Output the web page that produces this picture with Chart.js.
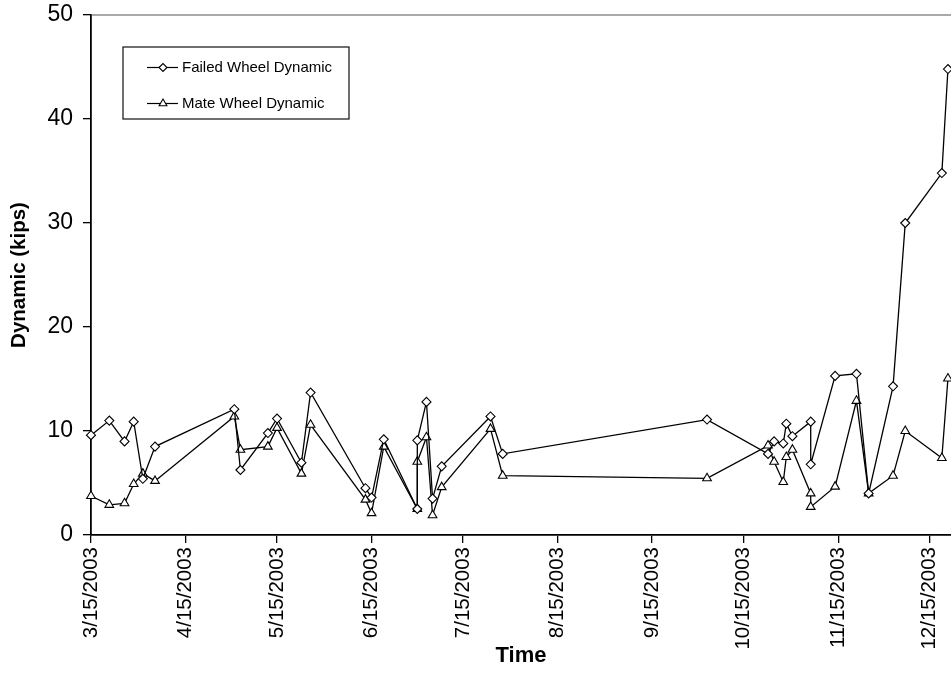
<!DOCTYPE html>
<html><head><meta charset="utf-8">
<script src="https://cdn.jsdelivr.net/npm/chart.js@4"></script>
<style>html,body{margin:0;padding:0;background:#fff}#wrap{width:951px;height:674px}</style>
</head><body><div id="wrap"><canvas id="c" width="951" height="674"></canvas></div>
<script>
const dates = ['2003-03-15','2003-03-21','2003-03-26','2003-03-29','2003-04-01','2003-04-05','2003-05-01','2003-05-03','2003-05-12','2003-05-15','2003-05-23','2003-05-26','2003-06-13','2003-06-15','2003-06-19','2003-06-30','2003-06-30','2003-07-03','2003-07-05','2003-07-08','2003-07-24','2003-07-28','2003-10-03','2003-10-23','2003-10-25','2003-10-28','2003-10-29','2003-10-31','2003-11-06','2003-11-06','2003-11-14','2003-11-21','2003-11-25','2003-12-03','2003-12-07','2003-12-19','2003-12-21'];
const failedWheel = [9.6,11.0,9.0,10.9,5.4,8.5,12.1,6.25,9.8,11.2,6.95,13.7,4.5,3.6,9.2,2.5,9.1,12.8,3.5,6.6,11.4,7.8,11.1,7.8,9.0,8.8,10.7,9.5,10.9,6.8,15.3,15.5,4.0,14.3,30.0,34.8,44.8];
const mateWheel = [3.75,2.9,3.05,4.9,5.9,5.2,11.4,8.2,8.5,10.3,5.9,10.6,3.4,2.1,8.5,2.5,7.05,9.4,1.9,4.6,10.2,5.7,5.45,8.6,7.05,5.1,7.5,8.2,4.0,2.7,4.65,12.9,4.0,5.7,10.0,7.4,15.05];
const tickDates = ['2003-03-15','2003-04-15','2003-05-15','2003-06-15','2003-07-15','2003-08-15','2003-09-15','2003-10-15','2003-11-15','2003-12-15'];
const yTicks = [0,10,20,30,40,50];
const axisStart = '2003-03-15', axisEnd = '2003-12-22';
const seriesNames = ['Failed Wheel Dynamic','Mate Wheel Dynamic'];

const DAY = 86400000;
function dayNum(s){const p=s.split('-').map(Number);return Date.UTC(p[0],p[1]-1,p[2])/DAY;}
function fmt(n){const d=new Date(Math.round(n)*DAY);return (d.getUTCMonth()+1)+'/'+d.getUTCDate()+'/'+d.getUTCFullYear();}
const FONT = "'Liberation Sans', Arial, Helvetica, sans-serif";

const legendPlugin = {
  id:'boxLegend',
  afterDraw(chart){
    const ctx = chart.ctx, a = chart.chartArea;
    ctx.save();
    ctx.strokeStyle = '#555'; ctx.lineWidth = 1.2;
    ctx.beginPath(); ctx.moveTo(a.left, a.top); ctx.lineTo(a.right, a.top); ctx.stroke();
    const x0 = a.left + 32, y0 = a.top + 32, w = 226, h = 72;
    ctx.strokeStyle = '#222'; ctx.lineWidth = 1.3;
    ctx.strokeRect(x0, y0, w, h);
    chart.data.datasets.forEach((ds, i) => {
      const y = y0 + 20.5 + i * 36;
      ctx.strokeStyle = '#000'; ctx.lineWidth = 1.2;
      ctx.beginPath(); ctx.moveTo(x0 + 24, y); ctx.lineTo(x0 + 55, y); ctx.stroke();
      ctx.fillStyle = '#fff'; ctx.strokeStyle = '#000'; ctx.lineWidth = 1.1;
      Chart.helpers.drawPoint(ctx, {pointStyle: ds.pointStyle, radius: ds.pointRadius - 0.5, rotation: 0, borderWidth: 1.1}, x0 + 40, y);
      ctx.fillStyle = '#000'; ctx.font = '15px ' + FONT; ctx.textBaseline = 'middle'; ctx.textAlign = 'left';
      ctx.fillText(ds.label, x0 + 59, y);
    });
    ctx.restore();
  }
};

const mk = (vals) => dates.map((d, i) => ({x: dayNum(d), y: vals[i]}));

new Chart(document.getElementById('c'), {
  type: 'line',
  data: {
    datasets: [
      {label: seriesNames[0], data: mk(failedWheel), clip:false, borderColor:'#000', borderWidth:1.3, pointStyle:'rectRot', pointRadius:4.5, pointBackgroundColor:'#fff', pointBorderColor:'#000', pointBorderWidth:1.1, tension:0},
      {label: seriesNames[1], data: mk(mateWheel), clip:false, borderColor:'#000', borderWidth:1.3, pointStyle:'triangle', pointRadius:5, pointBackgroundColor:'#fff', pointBorderColor:'#000', pointBorderWidth:1.1, tension:0}
    ]
  },
  options: {
    responsive:false, animation:false, devicePixelRatio:1,
    layout:{autoPadding:false, padding:{top:15, right:0, left:0, bottom:0}},
    plugins:{legend:{display:false}, tooltip:{enabled:false}},
    scales:{
      x:{
        type:'linear', min: dayNum(axisStart), max: dayNum(axisEnd),
        afterBuildTicks: s => { s.ticks = tickDates.map(d => ({value: dayNum(d)})); },
        afterFit: s => { s.height = 139; s.paddingLeft = 0; s.paddingRight = 0; },
        ticks:{callback: v => fmt(v), minRotation:90, maxRotation:90, autoSkip:false, color:'#000', padding:4, font:{family:FONT, size:20.5}},
        grid:{display:true, drawOnChartArea:false, drawTicks:true, tickLength:8, color:'#000', lineWidth:1.3},
        border:{display:true, color:'#000', width:1.8},
        title:{display:true, text:'Time', color:'#000', font:{family:FONT, size:22, weight:'bold'}, padding:{top:0, bottom:5}}
      },
      y:{
        min:0, max:50,
        afterBuildTicks: s => { s.ticks = yTicks.map(v => ({value: v})); },
        afterFit: s => { s.width = 91; s.paddingTop = 0; s.paddingBottom = 0; },
        ticks:{color:'#000', padding:10, font:{family:FONT, size:23}},
        grid:{display:true, drawOnChartArea:false, drawTicks:true, tickLength:8, color:'#000', lineWidth:1.3},
        border:{display:true, color:'#000', width:1.8},
        title:{display:true, text:'Dynamic (kips)', color:'#000', font:{family:FONT, size:20.5, weight:'bold'}, padding:{top:7, bottom:0}}
      }
    }
  },
  plugins:[legendPlugin]
});
</script></body></html>
